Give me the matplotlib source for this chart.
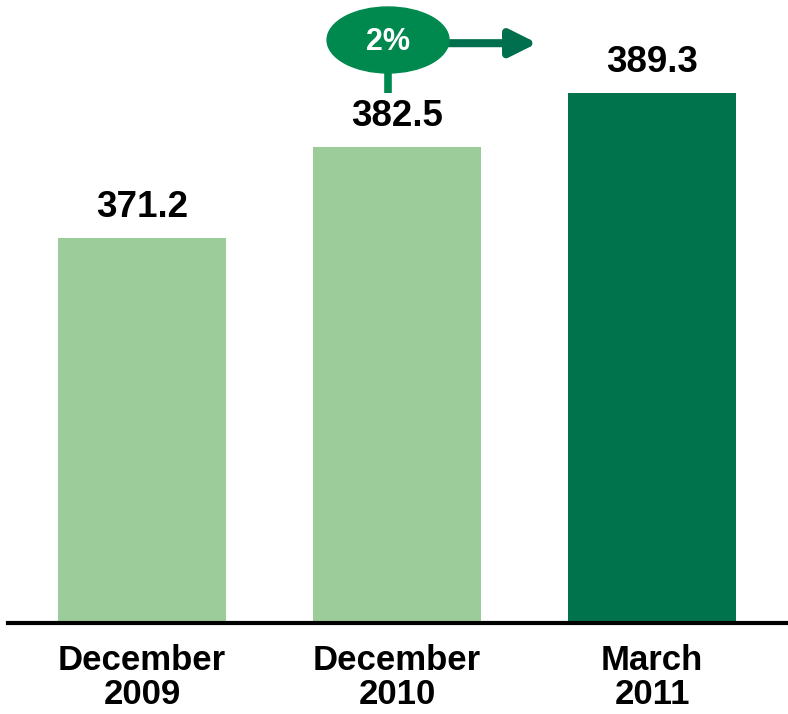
import matplotlib
matplotlib.use("Agg")
import matplotlib.pyplot as plt
from matplotlib.patches import Ellipse

categories = ["December\n2009", "December\n2010", "March\n2011"]
values = [371.2, 382.5, 389.3]
value_labels = ["371.2", "382.5", "389.3"]
growth_label = "2%"

light_green = "#9ccc9a"
dark_green = "#00734d"
oval_green = "#00894f"
arrow_green = "#006f4e"

plt.rcParams['font.family'] = ['Liberation Sans', 'DejaVu Sans']

fig = plt.figure(figsize=(7.88, 7.14), dpi=100)
ax = fig.add_axes([8 / 788, 91 / 714, 780 / 788, 623 / 714])

x = list(range(len(values)))
colors = [light_green, light_green, dark_green]
ax.bar(x, values, width=0.66, color=colors, zorder=2)

for xi, v, lab in zip(x, values, value_labels):
    ax.annotate(lab, (xi, v), xytext=(0, 15), textcoords="offset points",
                ha="center", va="baseline", fontsize=26.5, fontweight="bold")

ax.set_xlim(-0.525, 2.533)
ax.set_ylim(323, 400.9)

ax.set_xticks(x)
ax.set_xticklabels(categories, fontsize=25, fontweight="bold", linespacing=1.05)
ax.tick_params(axis="x", length=0, pad=15)
ax.set_yticks([])

for s in ["top", "left", "right"]:
    ax.spines[s].set_visible(False)
ax.spines["bottom"].set_linewidth(3)
ax.spines["bottom"].set_color("black")
ax.spines["bottom"].set_zorder(3)

# growth bubble between Dec 2010 and Mar 2011
cx, cy = 0.965, 395.9
ax.annotate("", xy=(1.55, cy - 0.4), xytext=(cx, cy - 0.4),
            arrowprops=dict(arrowstyle="-|>,head_length=0.8,head_width=0.4",
                            color=arrow_green, lw=5.8, mutation_scale=20,
                            shrinkA=0, shrinkB=0), zorder=4)
ax.plot([cx, cx], [cy, 389.3], color=oval_green, lw=5.5, solid_capstyle="butt", zorder=4)
ax.add_patch(Ellipse((cx, cy), 0.478, 8.25, color=oval_green, zorder=5))
ax.text(cx, cy - 0.2, growth_label, ha="center", va="center", color="white",
        fontsize=22, fontweight="bold", zorder=6)

fig.savefig("out.png", dpi=100)
